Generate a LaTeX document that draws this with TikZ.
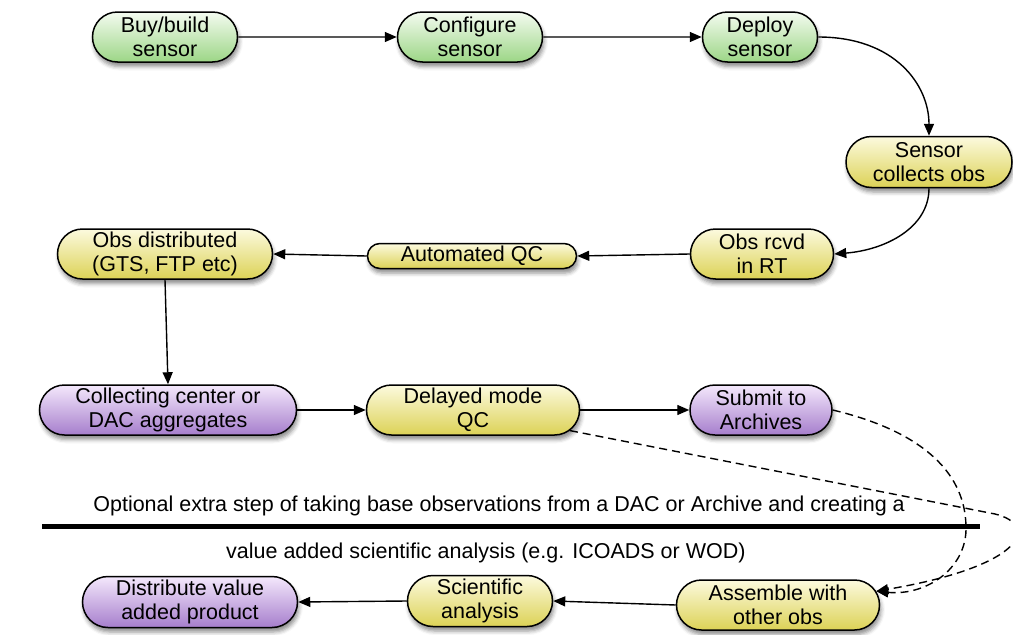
\documentclass[tikz,border=0pt]{standalone}
\usepackage{fontspec}
\setmainfont{Liberation Sans}
\usetikzlibrary{arrows.meta,shapes.misc,shadows.blur}

\definecolor{grTop}{HTML}{F4FBF0}
\definecolor{grMid}{HTML}{ACE494}
\definecolor{grBot}{HTML}{9CD686}
\definecolor{yeTop}{HTML}{FCFADE}
\definecolor{yeMid}{HTML}{EEE45A}
\definecolor{yeBot}{HTML}{DCD256}
\definecolor{puTop}{HTML}{F4E8FC}
\definecolor{puMid}{HTML}{BA7CEC}
\definecolor{puBot}{HTML}{A67ECC}

\tikzset{
  pill/.style={rounded rectangle, draw=black, line width=1.5pt, inner sep=0pt,
    align=center, font=\fontsize{21.5}{24}\selectfont,
    blur shadow={shadow xshift=1.5pt, shadow yshift=-4.5pt, shadow blur radius=4pt, shadow opacity=45}},
  green/.style={pill, top color=grTop, middle color=grMid, bottom color=grBot},
  yellow/.style={pill, top color=yeTop, middle color=yeMid, bottom color=yeBot},
  purple/.style={pill, top color=puTop, middle color=puMid, bottom color=puBot},
  flow/.style={line width=1.4pt, -{Triangle[length=12pt,width=10pt]}},
  optflow/.style={flow, dashed, dash pattern=on 8pt off 5pt},
  note/.style={inner sep=0pt, font=\fontsize{21.5}{24}\selectfont}
}

\begin{document}
\begin{tikzpicture}[x=1pt,y=-1pt]
\useasboundingbox (0,0) rectangle (1013,635);

% first row: getting the sensor out
\node[green, minimum width=145pt, minimum height=50pt] (buy) at (165,37) {Buy/build\\sensor};
\node[green, minimum width=145pt, minimum height=50pt] (cfg) at (470,37) {Configure\\sensor};
\node[green, minimum width=115pt, minimum height=50pt] (dep) at (760,37) {Deploy\\sensor};
\node[yellow, minimum width=166pt, minimum height=51pt] (col) at (929,162) {Sensor\\collects obs};

% real-time path
\node[yellow, minimum width=143pt, minimum height=50pt] (rt) at (762,254) {Obs rcvd\\in RT};
\node[yellow, minimum width=209pt, minimum height=25pt] (aqc) at (472,256) {Automated QC};
\node[yellow, minimum width=215pt, minimum height=50pt] (dist) at (165,254) {Obs distributed\\(GTS, FTP etc)};

% delayed-mode path
\node[purple, minimum width=257pt, minimum height=50pt] (cc) at (168,410) {Collecting center or\\DAC aggregates};
\node[yellow, minimum width=213pt, minimum height=50pt] (dqc) at (473,410) {Delayed mode\\QC};
\node[purple, minimum width=142pt, minimum height=50pt] (sub) at (761,410) {Submit to\\Archives};

% separator and explanation
\node[note, anchor=base east] (t1) at (905,511) {Optional extra step of taking base observations from a DAC or Archive and creating a};
\coordinate (sepL) at (42,526);
\coordinate (sepR) at (980,526);
\draw[line width=5pt] (sepL) -- (sepR);
\node[note, anchor=base west] (t2) at (226,558) {value added scientific analysis (e.g. ICOADS or WOD)};

% value-added products
\node[yellow, minimum width=203pt, minimum height=50pt] (asm) at (778,605) {Assemble with\\other obs};
\node[yellow, minimum width=145pt, minimum height=51pt] (sci) at (480,601) {Scientific\\analysis};
\node[purple, minimum width=215pt, minimum height=51pt] (dvp) at (190,602) {Distribute value\\added product};

% connectors
\draw[flow] (buy) -- (cfg);
\draw[flow] (cfg) -- (dep);
\draw[flow] (dep.east) .. controls (895,37) and (929,85) .. (col.north);
\draw[flow] (col.south) .. controls (929,228) and (885,250) .. (rt.east);
\draw[flow] (rt.west) -- (aqc.east);
\draw[flow] (aqc.west) -- (dist.east);
\draw[flow] (dist.south) -- (cc.north);
\draw[flow] (cc.east) -- (dqc.west);
\draw[flow] (dqc.east) -- (sub.west);
\coordinate (bend) at (995,514);
\draw[optflow] (dqc.-12) -- (bend) .. controls (1040,525) and (1025,566) .. (asm.8);
\draw[optflow] (sub.east) .. controls (925,432) and (967,475) .. (966,530)
  .. controls (965,570) and (925,596) .. (asm.8);
\draw[flow] (asm.west) -- (sci.east);
\draw[flow] (sci.west) -- (dvp.east);
\end{tikzpicture}
\end{document}
